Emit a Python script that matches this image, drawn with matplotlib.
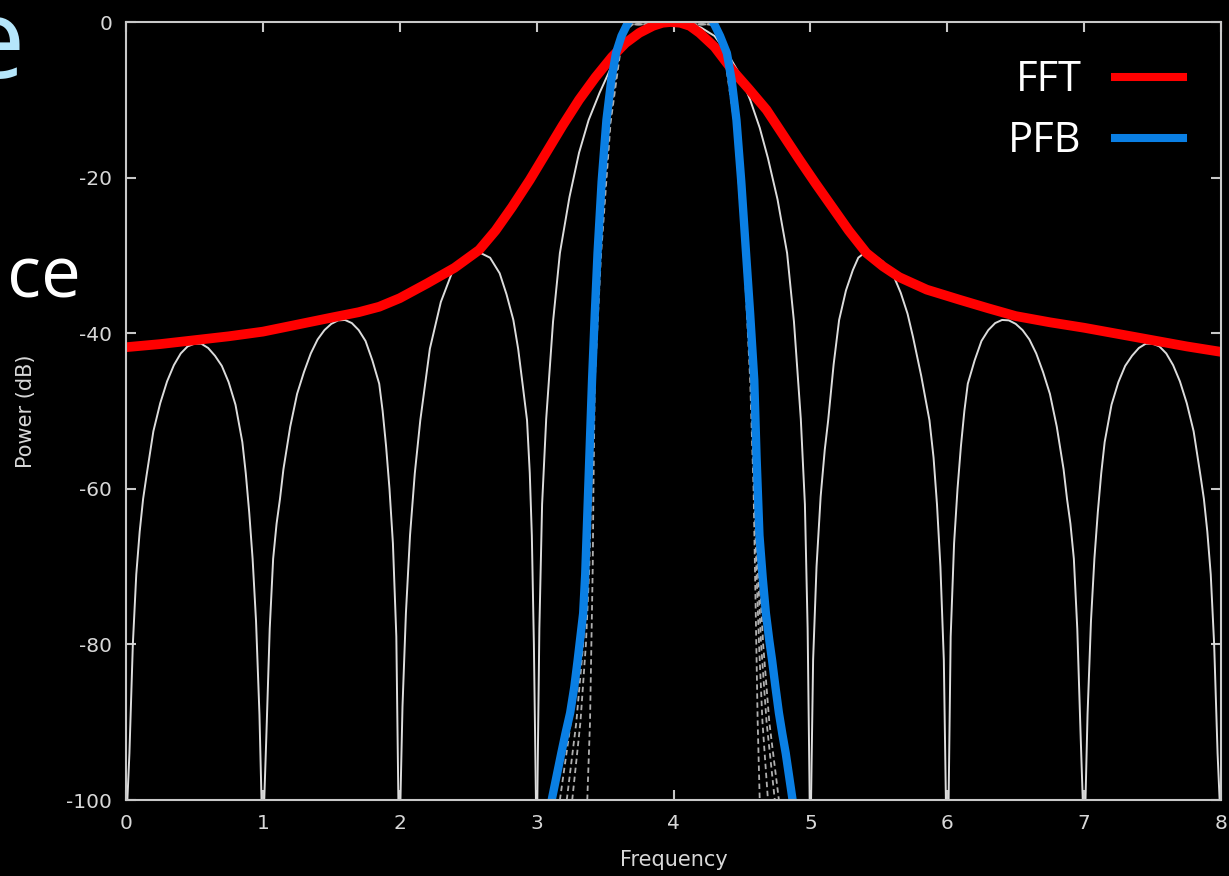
import matplotlib.pyplot as plt
from matplotlib.lines import Line2D

plt.rcParams['axes.unicode_minus'] = False
plt.rcParams['font.family'] = ['DejaVu Sans']

# single-bin responses (white), one list per lobe
lobe_x = [
    [0.0, 0.01, 0.025, 0.05, 0.075, 0.1, 0.125, 0.15, 0.2, 0.25, 0.3, 0.35, 0.4, 0.45, 0.5,
     0.55, 0.6, 0.65, 0.7, 0.75, 0.8, 0.85, 0.875, 0.9, 0.925, 0.95, 0.975, 0.99, 1.0],
    [1.0, 1.01, 1.025, 1.05, 1.075, 1.1, 1.125, 1.15, 1.2, 1.25, 1.3, 1.35, 1.4, 1.45, 1.5,
     1.55, 1.6, 1.65, 1.7, 1.75, 1.8, 1.85, 1.875, 1.9, 1.925, 1.95, 1.975, 1.99, 2.0],
    [2.0, 2.005, 2.02, 2.045, 2.075, 2.11, 2.15, 2.22, 2.30, 2.38, 2.47, 2.58, 2.66, 2.73,
     2.78, 2.83, 2.865, 2.9, 2.93, 2.95, 2.965, 2.98, 2.995, 3.0],
    [3.0, 3.005, 3.02, 3.04, 3.07, 3.09, 3.12, 3.17, 3.24, 3.31, 3.38, 3.46, 3.54, 3.61, 3.7,
     3.8, 3.9, 4.0, 4.1, 4.2, 4.3, 4.4, 4.48, 4.56, 4.63, 4.69, 4.76, 4.83, 4.88, 4.91,
     4.93, 4.96, 4.98, 4.995, 5.0],
    [5.0, 5.005, 5.02, 5.045, 5.075, 5.105, 5.13, 5.17, 5.21, 5.26, 5.31, 5.35, 5.40, 5.46,
     5.53, 5.60, 5.66, 5.71, 5.75, 5.81, 5.87, 5.90, 5.925, 5.95, 5.975, 5.99, 6.0],
    [6.0, 6.01, 6.025, 6.05, 6.075, 6.1, 6.125, 6.15, 6.2, 6.25, 6.3, 6.35, 6.4, 6.45, 6.5,
     6.55, 6.6, 6.65, 6.7, 6.75, 6.8, 6.85, 6.875, 6.9, 6.925, 6.95, 6.975, 6.99, 7.0],
    [7.0, 7.01, 7.025, 7.05, 7.075, 7.1, 7.125, 7.15, 7.2, 7.25, 7.3, 7.35, 7.4, 7.45, 7.5,
     7.55, 7.6, 7.65, 7.7, 7.75, 7.8, 7.85, 7.875, 7.9, 7.925, 7.95, 7.975, 7.99, 8.0],
]
lobe_y = [
    [-100, -100, -94, -80, -71, -65.5, -61.3, -58.3, -52.6, -49, -46.2, -44.1, -42.6, -41.7, -41.35,
     -41.35, -41.9, -42.9, -44.2, -46.3, -49.2, -54, -58, -63, -69, -77, -89, -100, -100],
    [-100, -100, -92, -78, -69, -64.5, -61.3, -57.5, -52, -47.8, -45, -42.6, -40.8, -39.6, -38.8,
     -38.35, -38.3, -38.7, -39.6, -41, -43.5, -46.5, -50, -54.5, -60, -67, -79, -100, -100],
    [-100, -100, -88, -76, -66, -58, -51.2, -42, -36, -32.3, -30.4, -29.6, -30.3, -32.3,
     -35, -38.3, -42, -46.9, -51.2, -58, -66, -80, -100, -100],
    [-100, -100, -78, -62, -51, -46, -38.5, -29.7, -22.5, -16.8, -12.6, -9.1, -6, -3.6, -1.8,
     -0.7, -0.15, 0, -0.15, -0.7, -1.8, -4.2, -6.6, -10, -13.6, -17.5, -22.8, -29.7, -38.5, -46,
     -51, -62, -78, -100, -100],
    [-100, -100, -82, -70, -61, -55, -51.2, -44, -38.3, -34.5, -31.9, -30.3, -29.6, -29.9,
     -30.8, -32.3, -34.8, -37.5, -40.5, -45.5, -51.2, -56, -62, -70, -82, -100, -100],
    [-100, -100, -79, -67, -60, -54.5, -50, -46.5, -43.5, -41, -39.6, -38.7, -38.3, -38.35, -38.8,
     -39.6, -40.8, -42.6, -45, -47.8, -52, -57.5, -61.3, -64.5, -69, -78, -92, -100, -100],
    [-100, -100, -89, -77, -69, -63, -58, -54, -49.2, -46.3, -44.2, -42.9, -41.9, -41.35, -41.35,
     -41.7, -42.6, -44.1, -46.2, -49, -52.6, -58.3, -61.3, -65.5, -71, -80, -94, -100, -100],
]

# dashed filter responses: left / right edge positions at these levels
dash_levels = [-100, -90, -80, -70, -60, -46, -30, -13, -4, -1, -0.3]
dash_left = [
    [3.17, 3.25, 3.31, 3.35, 3.38, 3.41, 3.455, 3.525, 3.595, 3.64, 3.70],
    [3.22, 3.29, 3.34, 3.37, 3.39, 3.415, 3.46, 3.53, 3.60, 3.645, 3.70],
    [3.26, 3.32, 3.36, 3.385, 3.40, 3.42, 3.465, 3.535, 3.605, 3.65, 3.70],
    [3.37, 3.39, 3.40, 3.41, 3.415, 3.425, 3.47, 3.54, 3.61, 3.655, 3.70],
]
dash_right = [
    [4.77, 4.70, 4.655, 4.625, 4.60, 4.575, 4.53, 4.46, 4.385, 4.34, 4.30],
    [4.74, 4.68, 4.64, 4.615, 4.595, 4.57, 4.525, 4.455, 4.38, 4.335, 4.30],
    [4.69, 4.65, 4.625, 4.605, 4.59, 4.565, 4.52, 4.45, 4.375, 4.33, 4.30],
    [4.63, 4.615, 4.605, 4.595, 4.585, 4.56, 4.515, 4.445, 4.37, 4.325, 4.30],
]

# FFT envelope (red)
fft_x = [0, 0.25, 0.5, 0.75, 1.0, 1.25, 1.5, 1.7, 1.85, 2.0, 2.2, 2.4, 2.58, 2.7, 2.82, 2.95, 3.07,
         3.19, 3.31, 3.43, 3.55, 3.65, 3.75, 3.85, 3.92, 3.98, 4.05, 4.12, 4.19, 4.3, 4.43, 4.55,
         4.68, 4.8, 4.92, 5.04, 5.16, 5.28, 5.41, 5.53, 5.65, 5.85, 6.09, 6.3, 6.5, 6.75, 7.0,
         7.25, 7.5, 7.75, 8.0]
fft_y = [-41.8, -41.4, -40.9, -40.4, -39.8, -38.9, -38.0, -37.3, -36.6, -35.5, -33.6, -31.6, -29.3,
         -26.8, -23.8, -20.3, -16.8, -13.3, -10, -7.1, -4.5, -2.7, -1.4, -0.5, -0.1, 0, -0.1, -0.5,
         -1.4, -3.2, -6.2, -8.6, -11.3, -14.5, -17.7, -20.8, -23.8, -26.8, -29.7, -31.4, -32.8,
         -34.4, -35.7, -36.8, -37.8, -38.6, -39.3, -40.1, -40.9, -41.7, -42.4]

# PFB response (blue), runs above 0 dB in the middle
pfb_x = [3.11, 3.145, 3.18, 3.21, 3.245, 3.275, 3.30, 3.32, 3.34, 3.355, 3.365, 3.385, 3.405,
         3.425, 3.445, 3.475, 3.51, 3.545, 3.58, 3.62, 3.67, 3.75, 4.0, 4.22, 4.29, 4.34, 4.39,
         4.425, 4.46, 4.495, 4.53, 4.56, 4.59, 4.607, 4.628, 4.652, 4.675, 4.70, 4.72, 4.745,
         4.77, 4.795, 4.82, 4.845, 4.87]
pfb_y = [-100, -97, -94, -91.5, -88.8, -85.5, -82, -79, -76, -71, -66, -56, -46,
         -37.5, -29.7, -20.5, -12.6, -7.5, -4, -1.8, 0, 2, 3, 2, 0, -1.8, -4,
         -7.5, -12.6, -20.5, -29.7, -37.5, -46, -56, -66, -71.5, -76, -79.5, -82, -85.5,
         -88.8, -91.5, -94, -97, -100]

fig = plt.figure(figsize=(12.29, 8.76), dpi=100, facecolor='black')
ax = fig.add_axes([126 / 1229, 76 / 876, 1095 / 1229, 778 / 876])
ax.set_facecolor('black')

for xs, ys in zip(lobe_x, lobe_y):
    ax.plot(xs, ys, color='#dcdcdc', lw=1.4, solid_joinstyle='round')

for lx, rx in zip(dash_left, dash_right):
    ax.plot(lx + rx[::-1], dash_levels + dash_levels[::-1], color='#b0b0b0', lw=1.3,
            dashes=(3, 2))

ax.plot(fft_x, fft_y, color='#ff0000', lw=7, solid_joinstyle='round', solid_capstyle='butt')
ax.plot(pfb_x, pfb_y, color='#0a7fe4', lw=6, solid_joinstyle='round', solid_capstyle='butt')

ax.set_xlim(0, 8)
ax.set_ylim(-100, 0)
ax.set_xticks(range(0, 9))
ax.set_yticks(range(-100, 1, 20))

tick_col = '#d8d8d8'
for s in ax.spines.values():
    s.set_color('#c8c8c8')
    s.set_linewidth(1.5)
ax.tick_params(direction='in', length=7, width=1.5, color='#c8c8c8', labelcolor=tick_col,
               labelsize=14.5, pad=10, top=True, right=True)

ax.set_xlabel('Frequency', color=tick_col, fontsize=15)
ax.set_ylabel('Power (dB)', color=tick_col, fontsize=15)
ax.xaxis.label.set_va('center')
ax.yaxis.label.set_va('center')
ax.xaxis.set_label_coords(0.5, -0.077)
ax.yaxis.set_label_coords(-0.091, 0.5)

handles = [Line2D([], [], color='#ff0000', lw=5.8),
           Line2D([], [], color='#0a7fe4', lw=5.8)]
leg = ax.legend(handles, ['FFT', 'PFB'], loc='upper right', markerfirst=False, frameon=False,
                prop={'family': 'Open Sans', 'size': 30}, labelcolor='white',
                handlelength=1.65, handletextpad=0.8, labelspacing=0.45,
                borderpad=0.5, borderaxespad=0.4)

# leftovers of the slide text on the left edge
fig.text(25 / 1229, 1 - 78 / 876, 'e', color='#b5e6fb', fontsize=80, family='Open Sans',
         ha='right', va='baseline')
fig.text(81 / 1229, 1 - 297 / 876, 'ce', color='white', fontsize=51, family='Open Sans',
         ha='right', va='baseline')

fig.savefig('out.png', dpi=100, facecolor='black')
